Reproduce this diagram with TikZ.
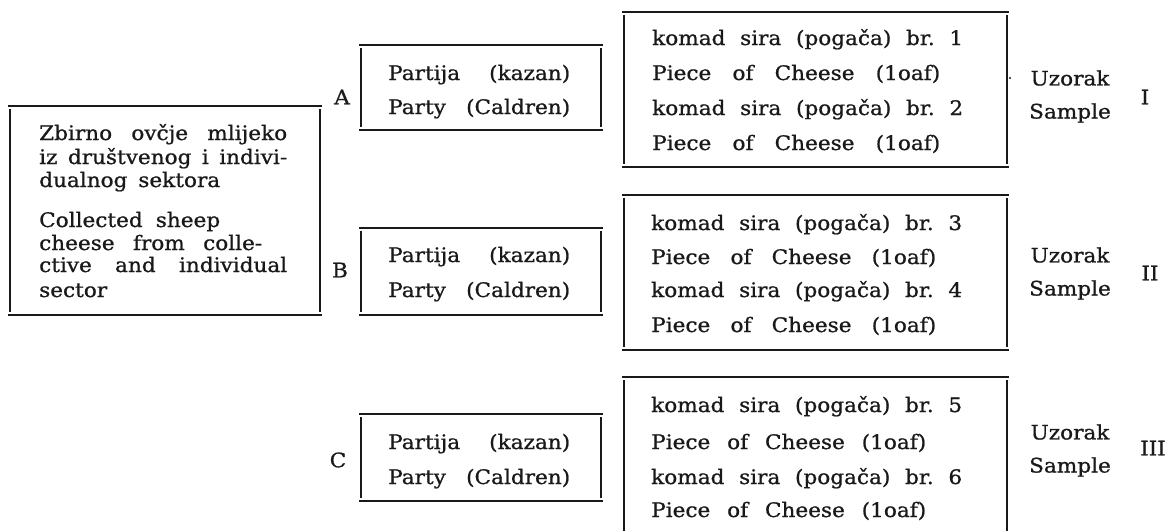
\documentclass[tikz,border=0pt]{standalone}
\usepackage{fontspec}
\setmainfont{DejaVu Serif}[FakeBold=0.9, FakeStretch=1.08]
\frenchspacing
\newcommand\sline[2]{\makebox[#1pt][s]{#2}}
\newcommand\brbox[5][]{%
  \draw[hline] (#2-2,#3) -- (#4+2,#3);
  \draw[hline] (#2-2,#5) -- (#4+2,#5);
  \draw[vline] (#2,#3+3) -- (#2,#5-3);
  \draw[vline] (#4,#3+3) -- (#4,#5-3);}
\tikzset{
  hline/.style={line width=2.6pt, draw=black!90},
  vline/.style={line width=2.1pt, draw=black!90},
  txt/.style={anchor=base west, inner sep=0pt, font=\fontsize{20}{24}\selectfont, text=black!90},
  lbl/.style={anchor=center, inner sep=0pt, font=\fontsize{20}{24}\selectfont, text=black!90},
}
\begin{document}
\begin{tikzpicture}[x=1pt,y=-1pt]
\useasboundingbox (0,0) rectangle (1166,530);
% ---- frames
\brbox{10}{106}{320}{315}
\brbox{361}{45}{601}{130}
\brbox{361}{228}{601}{315}
\brbox{361}{414}{601}{501}
\brbox{624}{12}{1007}{167}
\brbox{624}{195}{1007}{350}
\draw[hline] (622,377) -- (1009,377);
\draw[vline] (624,380) -- (624,531);
\draw[vline] (1007,380) -- (1007,531);
% ---- left box
\node[txt] (m1) at (39,140) {\sline{248}{Zbirno ovčje mlijeko}};
\node[txt] (m2) at (39,164) {\sline{248}{iz društvenog i indivi-}};
\node[txt] (m3) at (39,187) {\sline{181}{dualnog sektora}};
\node[txt] (m4) at (39,227) {\sline{181}{Collected sheep}};
\node[txt] (m5) at (39,250) {\sline{223}{cheese from colle-}};
\node[txt] (m6) at (39,272) {\sline{248}{ctive and individual}};
\node[txt] (m7) at (39,297) {sector};
% ---- labels A B C
\node[lbl] (la) at (342,97) {A};
\node[lbl] (lb) at (340,270) {B};
\node[lbl] (lc) at (338,460) {C};
% ---- party boxes
\node[txt] (pa1) at (388,80) {\sline{182}{Partija (kazan)}};
\node[txt] (pa2) at (388,114) {\sline{182}{Party (Caldren)}};
\node[txt] (pb1) at (388,262) {\sline{182}{Partija (kazan)}};
\node[txt] (pb2) at (388,297) {\sline{182}{Party (Caldren)}};
\node[txt] (pc1) at (388,449) {\sline{182}{Partija (kazan)}};
\node[txt] (pc2) at (388,484) {\sline{182}{Party (Caldren)}};
% ---- piece boxes
\node[txt] (k1) at (652,45) {\sline{311}{komad sira (pogača) br. 1}};
\node[txt] (c1) at (652,80) {\sline{288}{Piece of Cheese (1oaf)}};
\node[txt] (k2) at (652,115) {\sline{311}{komad sira (pogača) br. 2}};
\node[txt] (c2) at (652,150) {\sline{288}{Piece of Cheese (1oaf)}};
\node[txt] (k3) at (651,230) {\sline{311}{komad sira (pogača) br. 3}};
\node[txt] (c3) at (651,264) {\sline{285}{Piece of Cheese (1oaf)}};
\node[txt] (k4) at (651,297) {\sline{311}{komad sira (pogača) br. 4}};
\node[txt] (c4) at (651,332) {\sline{285}{Piece of Cheese (1oaf)}};
\node[txt] (k5) at (651,412) {\sline{311}{komad sira (pogača) br. 5}};
\node[txt] (c5) at (651,449) {\sline{275}{Piece of Cheese (1oaf)}};
\node[txt] (k6) at (651,484) {\sline{311}{komad sira (pogača) br. 6}};
\node[txt] (c6) at (651,517) {\sline{275}{Piece of Cheese (1oaf)}};
% ---- samples
\fill[black!90] (1010,78) circle (1.2);
\node[lbl] (u1) at (1070,78) {Uzorak};
\node[lbl] (s1) at (1070,113) {Sample};
\node[lbl] (r1) at (1145,97) {I};
\node[lbl] (u2) at (1070,255) {Uzorak};
\node[lbl] (s2) at (1070,290) {Sample};
\node[lbl] (r2) at (1150,273) {II};
\node[lbl] (u3) at (1070,432) {Uzorak};
\node[lbl] (s3) at (1070,467) {Sample};
\node[txt, anchor=west] (r3) at (1140,448) {III};
\end{tikzpicture}
\end{document}
